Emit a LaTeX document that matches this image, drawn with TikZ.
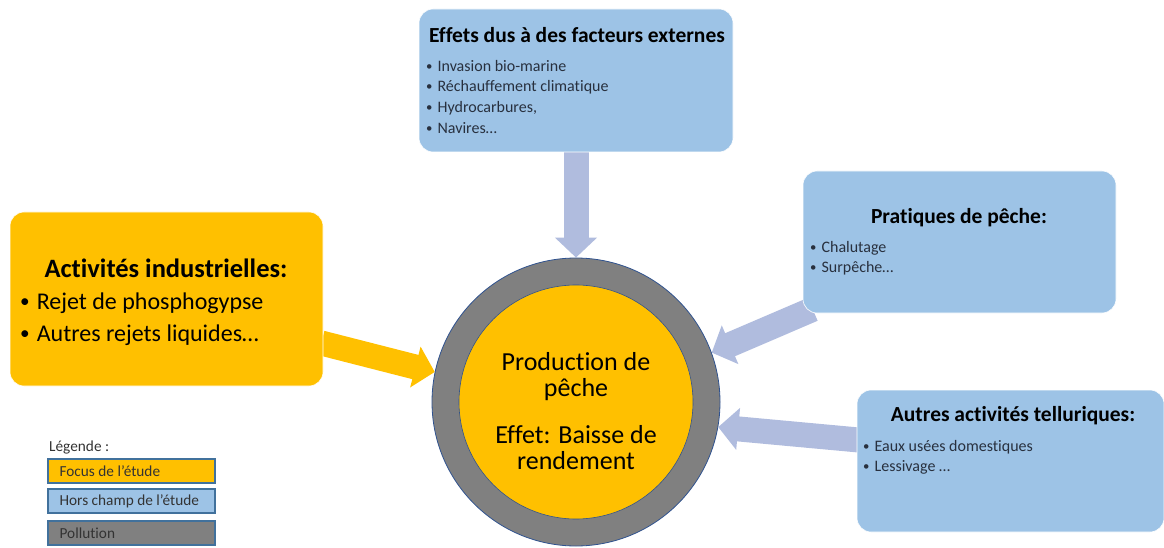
\documentclass[tikz,border=0pt]{standalone}
\usepackage{fontspec}
\setmainfont{Carlito}[Ligatures=NoCommon]
\usetikzlibrary{arrows.meta,calc,backgrounds}
\definecolor{focus}{RGB}{255,192,0}
\definecolor{hors}{RGB}{157,195,230}
\definecolor{pollu}{RGB}{128,128,128}
\definecolor{arrowblue}{RGB}{176,188,222}
\definecolor{ringline}{RGB}{47,82,143}
\definecolor{legline}{RGB}{65,113,156}
\definecolor{itemtxt}{RGB}{40,48,62}
\newcommand{\mybul}{\raisebox{0.12ex}{\scalebox{0.8}{•}}}
\tikzset{
  box/.style={rounded corners=14pt, inner sep=0pt, draw=white, line width=0.6pt},
  focusbox/.style={box, fill=focus},
  horsbox/.style={box, fill=hors},
  ttl/.style={font=\bfseries\fontsize{21.5}{25}\selectfont, inner sep=0pt},
  itm/.style={font=\fontsize{16}{19}\selectfont, text=itemtxt, inner sep=0pt, anchor=west},
  bigttl/.style={font=\bfseries\fontsize{26.5}{31}\selectfont, inner sep=0pt},
  bigitm/.style={font=\fontsize{24}{28}\selectfont, inner sep=0pt, anchor=west},
  circtxt/.style={font=\fontsize{26}{30}\selectfont, inner sep=0pt},
  blockarrow/.style={line width=25pt, draw=arrowblue, -{Triangle[width=41pt,length=20pt]}},
  orangearrow/.style={blockarrow, draw=focus, fill=focus},
  legbox/.style={draw=legline, line width=1.2pt, minimum width=167pt, minimum height=24pt, inner sep=0pt},
  legtxt/.style={font=\fontsize{15.3}{18}\selectfont, inner sep=0pt, anchor=west, text=black!80},
}
\begin{document}
\begin{tikzpicture}[x=1pt,y=-1pt]
\useasboundingbox (0,0) rectangle (1164,548);
% boxes
\node[focusbox, minimum width=313pt, minimum height=174pt] (ind) at (166.5,299) {};
\node[horsbox, minimum width=314pt, minimum height=143pt] (ext) at (576,80.5) {};
\node[horsbox, minimum width=313pt, minimum height=142pt] (prat) at (959.5,242) {};
\node[horsbox, minimum width=307pt, minimum height=142pt] (aut) at (1010.5,461) {};
% circle
\node[circle, fill=pollu, draw=ringline, line width=0.8pt, minimum size=288pt, inner sep=0pt] (outer) at (576,402) {};
\node[circle, fill=focus, draw=ringline, line width=0.6pt, minimum size=234pt, inner sep=0pt] (inner) at (576,402) {};
% arrows
\begin{scope}[on background layer]
\draw[blockarrow] (ext.south) -- (outer.north);
\draw[orangearrow] ($(ind.east)+(-2,44)$) -- (outer.168);
\draw[blockarrow] ($(prat.south west)+(10,-4)$) -- (outer.20);
\draw[blockarrow] ($(aut.west)+(2,-21)$) -- (outer.350);
\end{scope}
% texts: industrial
\node[bigttl] (indt) at (166,268) {Activités industrielles:};
\node[bigitm] (ind1) at (20,303) {\mybul\hspace{7pt}Rejet de phosphogypse};
\node[bigitm] (ind2) at (20,335) {\mybul\hspace{7pt}Autres rejets liquides…};
% external
\node[ttl] (extt) at (577,35) {Effets dus à des facteurs externes};
\node[itm] (ext1) at (426,66) {\mybul\hspace{5pt}Invasion bio-marine};
\node[itm] (ext2) at (426,87) {\mybul\hspace{5pt}Réchauffement climatique};
\node[itm] (ext3) at (426,108) {\mybul\hspace{5pt}Hydrocarbures,};
\node[itm] (ext4) at (426,128) {\mybul\hspace{5pt}Navires…};
% pratiques
\node[ttl] (pratt) at (959,218) {Pratiques de pêche:};
\node[itm] (prat1) at (810,248) {\mybul\hspace{5pt}Chalutage};
\node[itm] (prat2) at (810,268) {\mybul\hspace{5pt}Surpêche…};
% autres
\node[ttl] (autt) at (1013,416) {Autres activités telluriques:};
\node[itm] (aut1) at (863,447) {\mybul\hspace{5pt}Eaux usées domestiques};
\node[itm] (aut2) at (863,467) {\mybul\hspace{5pt}Lessivage …};
% circle text
\node[circtxt] (c1) at (576,362) {Production de};
\node[circtxt] (c2) at (576,390) {pêche};
\node[circtxt] (c3) at (576,435) {Effet: Baisse de};
\node[circtxt] (c4) at (576,461) {rendement};
% legend
\node[legtxt] (legt) at (49,447) {Légende :};
\node[legbox, fill=focus] (leg1) at (131.5,471) {};
\node[legbox, fill=hors] (leg2) at (131.5,501) {};
\node[legbox, fill=pollu] (leg3) at (131.5,533) {};
\node[legtxt] at ($(leg1.west)+(12,0)$) (leg1t) {Focus de l’étude};
\node[legtxt] at ($(leg2.west)+(12,0)$) (leg2t) {Hors champ de l’étude};
\node[legtxt] at ($(leg3.west)+(12,0)$) (leg3t) {Pollution};
\end{tikzpicture}
\end{document}
